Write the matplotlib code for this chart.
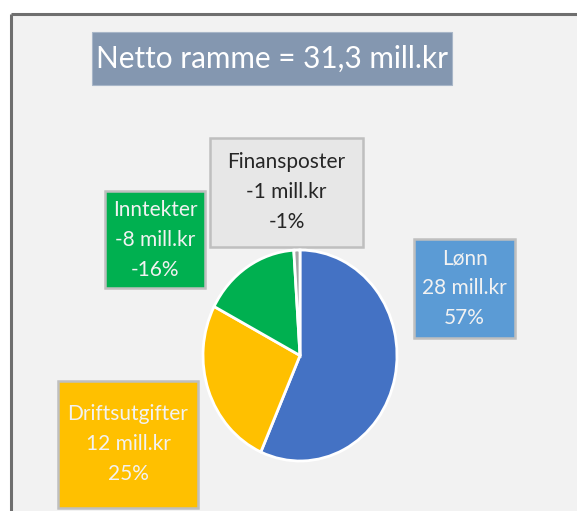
import matplotlib.pyplot as plt
from matplotlib.patches import Rectangle

# data
title = "Netto ramme = 31,3 mill.kr"
labels = ["Lønn", "Driftsutgifter", "Inntekter", "Finansposter"]
sizes = [27.8, 12.8, 8.0, 0.5]
amounts = ["28 mill.kr", "12 mill.kr", "-8 mill.kr", "-1 mill.kr"]
pcts = ["57%", "25%", "-16%", "-1%"]
colors = ["#4472c4", "#ffc000", "#00b050", "#a5a5a5"]

# label boxes (x0, y0, x1, y1 in pixels from top-left), fill, text colour
box_fill = ["#5b9bd5", "#ffc000", "#00b050", "#e7e7e7"]
box_text = ["#f2f2f2", "#f2f2f2", "#f2f2f2", "#262626"]
box_pos = [(414, 239, 515, 338), (58, 381, 198, 508), (105, 191, 205, 288), (210, 138, 363, 247)]

W, H = 577, 511
plt.rcParams['font.family'] = ['Lato', 'DejaVu Sans']

fig = plt.figure(figsize=(W / 100, H / 100), dpi=100)
fig.patch.set_facecolor("white")

bg = fig.add_axes([0, 0, 1, 1])
bg.set_xlim(0, W)
bg.set_ylim(H, 0)
bg.axis("off")

# chart area with frame on top and left
bg.add_patch(Rectangle((11, 14), W - 11, H - 14, facecolor="#f2f2f2", edgecolor="none"))
bg.plot([11, W], [14.5, 14.5], color="#6f6f6f", lw=2.2, solid_capstyle="butt")
bg.plot([11, 11], [14, H], color="#6f6f6f", lw=2.2, solid_capstyle="butt")

# title
bg.add_patch(Rectangle((92, 32), 360, 53, facecolor="#8497b0", edgecolor="#a8b6c8", lw=0.8))
bg.text(272, 59, title, color="white", fontsize=21.4, ha="center", va="center")

# pie
pax = fig.add_axes([203 / W, (H - 461) / H, 194 / W, 211 / H])
pax.pie(sizes, colors=colors, startangle=90, counterclock=False,
        wedgeprops=dict(edgecolor="white", linewidth=2))
pax.set_aspect("auto")
pax.set_xlim(-1.0, 1.0)
pax.set_ylim(-1.0, 1.0)

# data label boxes
for i in range(len(labels)):
    x0, y0, x1, y1 = box_pos[i]
    bg.add_patch(Rectangle((x0, y0), x1 - x0, y1 - y0, facecolor=box_fill[i],
                           edgecolor="#bfbfbf", lw=1.8, zorder=3))
    cx = (x0 + x1) / 2
    cy = (y0 + y1) / 2
    for k, line in enumerate([labels[i], amounts[i], pcts[i]]):
        bg.text(cx, cy + (k - 1) * 30, line, color=box_text[i], fontsize=15,
                ha="center", va="center", zorder=4)

fig.savefig("out.png", dpi=100)
